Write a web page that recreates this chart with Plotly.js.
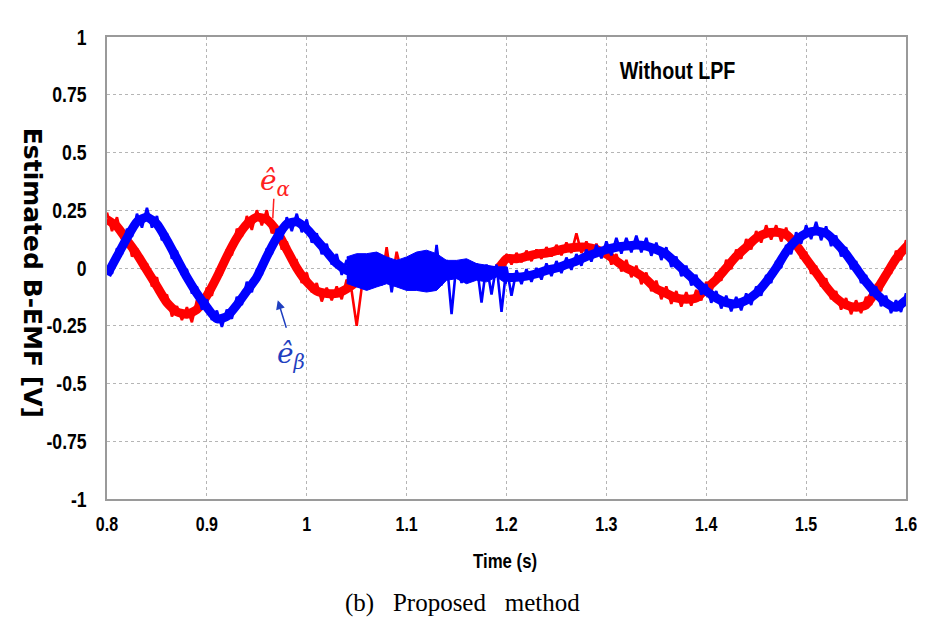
<!DOCTYPE html>
<html>
<head>
<meta charset="utf-8">
<script src="https://cdn.plot.ly/plotly-3.0.1.min.js"></script>
<style>html,body{margin:0;padding:0;background:#fff;}#chart{width:931px;height:626px;}</style>
</head>
<body>
<div id="chart"></div>
<script>
// Time axis sampling (s)
const tStart = 0.8, tStepFine = 0.005, tStepCoarse = 0.01;

// Estimated alpha back-EMF (V), read every 0.005 s from 0.800 s (includes visible ripple)
const eAlpha = [
 0.24,0.16,0.22,0.125,0.155,0.05,0.085,-0.005,0.02,-0.08,
 -0.04,-0.14,-0.115,-0.21,-0.165,-0.225,-0.17,-0.235,-0.14,-0.175,
 -0.085,-0.12,-0.015,-0.025,0.08,0.055,0.17,0.135,0.225,0.165,
 0.25,0.185,0.25,0.15,0.185,0.08,0.115,0.01,0.03,-0.065,
 -0.02,-0.105,-0.065,-0.145,-0.085,-0.14,-0.08,-0.135,-0.05,-0.10,
 -0.25,-0.085,-0.005,-0.08,0.06,-0.06,0.09,-0.06,0.07,-0.02,
 0.035,-0.025,0.03,-0.025,0.03,-0.02,0.025,-0.02,0.02,-0.015,
 0.03,-0.01,0.015,-0.02,0.005,-0.025,0.005,-0.025,0.01,-0.02,
 0.06,0.015,0.065,0.025,0.075,0.03,0.08,0.04,0.09,0.05,
 0.10,0.055,0.11,0.065,0.15,0.065,0.115,0.06,0.105,0.045,
 0.085,0.015,0.06,-0.015,0.035,-0.04,0.01,-0.07,-0.02,-0.10,
 -0.055,-0.135,-0.08,-0.155,-0.10,-0.1675,-0.105,-0.1625,-0.095,-0.14,
 -0.06,-0.105,-0.02,-0.055,0.035,-0.005,0.08,0.04,0.125,0.08,
 0.16,0.11,0.185,0.1225,0.185,0.115,0.175,0.095,0.135,0.04,
 0.07,-0.025,0.01,-0.08,-0.045,-0.135,-0.10,-0.18,-0.13,-0.20,
 -0.14,-0.195,-0.125,-0.16,-0.07,-0.10,0.0,-0.025,0.075,0.035,
 0.12,0.08
];

// Estimated beta back-EMF (V), read every 0.005 s from 0.800 s
const eBeta = [
 0.0,-0.025,0.085,0.06,0.17,0.135,0.235,0.175,0.26,0.175,
 0.225,0.12,0.15,0.04,0.075,-0.03,-0.005,-0.11,-0.08,-0.18,
 -0.135,-0.225,-0.185,-0.255,-0.18,-0.22,-0.125,-0.16,-0.06,-0.105,
 -0.01,-0.03,0.085,0.06,0.17,0.125,0.22,0.16,0.235,0.155,
 0.21,0.11,0.15,0.06,0.105,0.015,0.06,-0.03,0.035,-0.065,
 0.03,-0.075,0.035,-0.085,0.04,-0.075,0.045,-0.105,0.035,-0.075,
 0.04,-0.085,0.045,-0.08,0.045,-0.085,0.10,-0.075,0.035,-0.20,
 0.025,-0.065,0.03,-0.05,0.02,-0.15,0.015,-0.115,0.015,-0.19,
 0.005,-0.12,-0.01,-0.07,-0.005,-0.06,0.0,-0.05,0.02,-0.035,
 0.03,-0.022,0.045,-0.008,0.06,0.01,0.08,0.028,0.10,0.042,
 0.115,0.055,0.13,0.062,0.13,0.068,0.14,0.068,0.13,0.053,
 0.11,0.035,0.09,0.005,0.05,-0.035,0.01,-0.075,-0.03,-0.115,
 -0.07,-0.15,-0.10,-0.175,-0.12,-0.188,-0.125,-0.183,-0.11,-0.16,
 -0.08,-0.12,-0.03,-0.065,0.03,0.0,0.10,0.06,0.155,0.105,
 0.185,0.125,0.20,0.12,0.18,0.095,0.14,0.05,0.09,-0.005,
 0.03,-0.065,-0.03,-0.12,-0.08,-0.165,-0.12,-0.195,-0.14,-0.19,
 -0.11,-0.16
];

// Mid-band (centre of the noisy trace) read every 0.01 s from 0.80 s
const eAlphaMid = [0.21,0.18,0.12,0.06,-0.01,-0.08,-0.15,-0.19,-0.20,-0.18,
 -0.12,-0.04,0.05,0.13,0.19,0.22,0.21,0.16,0.08,0.00,
 -0.06,-0.10,-0.11,-0.11,-0.09,-0.06,-0.03,-0.01,0.00,0.01,
 0.01,0.00,0.00,0.00,0.00,0.01,0.00,-0.01,-0.01,-0.01,
 0.04,0.04,0.05,0.06,0.065,0.075,0.085,0.09,0.09,0.08,
 0.06,0.03,0.00,-0.02,-0.05,-0.09,-0.11,-0.13,-0.135,-0.13,
 -0.09,-0.05,0.00,0.05,0.09,0.13,0.15,0.155,0.145,0.10,
 0.04,-0.02,-0.08,-0.13,-0.16,-0.17,-0.16,-0.10,-0.03,0.04,
 0.09,0.13];
const eBetaMid = [-0.03,0.05,0.13,0.20,0.22,0.19,0.12,0.04,-0.04,-0.11,
 -0.17,-0.22,-0.21,-0.16,-0.10,-0.04,0.05,0.13,0.19,0.20,
 0.17,0.12,0.07,0.02,-0.01,-0.02,-0.015,-0.015,-0.015,-0.015,
 -0.015,-0.015,-0.015,-0.015,-0.015,-0.015,-0.015,-0.015,-0.015,-0.015,
 -0.04,-0.04,-0.035,-0.025,-0.01,0.0,0.015,0.03,0.05,0.065,
 0.08,0.09,0.095,0.10,0.095,0.08,0.06,0.02,-0.02,-0.06,
 -0.10,-0.13,-0.15,-0.155,-0.14,-0.11,-0.06,0.0,0.07,0.12,
 0.15,0.16,0.15,0.11,0.06,0.0,-0.06,-0.11,-0.15,-0.17,
 -0.14,-0.12];

// Wide ripple band of the beta estimate in the low-speed section (1.04–1.20 s, every 0.01 s)
const betaNoiseTime = [1.04,1.05,1.06,1.07,1.08,1.09,1.10,1.11,1.12,1.13,1.14,1.15,1.16,1.17,1.18,1.19,1.20];
const betaNoiseHi = [0.048,0.062,0.062,0.069,0.048,0.033,0.048,0.069,0.077,0.062,0.033,0.033,0.040,0.019,0.012,0.005,0.005];
const betaNoiseLo = [-0.067,-0.082,-0.097,-0.082,-0.068,-0.082,-0.097,-0.097,-0.104,-0.097,-0.053,-0.046,-0.068,-0.053,-0.060,-0.039,-0.068];

// Axis ticks
const xTickVals = [0.8,0.9,1.0,1.1,1.2,1.3,1.4,1.5,1.6];
const xTickText = ['0.8','0.9','1','1.1','1.2','1.3','1.4','1.5','1.6'];
const yTickVals = [-1,-0.75,-0.5,-0.25,0,0.25,0.5,0.75,1];
const yTickText = ['-1','-0.75','-0.5','-0.25','0','0.25','0.5','0.75','1'];

const tFine = eAlpha.map((_, k) => +(tStart + tStepFine * k).toFixed(3));
const tCoarse = eAlphaMid.map((_, k) => +(tStart + tStepCoarse * k).toFixed(2));

const RED = '#ff0000', BLUE = '#0000ff';
const sansB = '"Liberation Sans", Arial, sans-serif';

const traces = [
  {x: tCoarse, y: eAlphaMid, mode: 'lines', line: {color: RED, width: 9, shape: 'spline', smoothing: 0.6}, hoverinfo: 'skip', showlegend: false},
  {x: tFine, y: eAlpha, mode: 'lines', line: {color: RED, width: 2.6}, showlegend: false},
  {x: betaNoiseTime.concat(betaNoiseTime.slice().reverse()), y: betaNoiseHi.concat(betaNoiseLo.slice().reverse()),
   mode: 'lines', fill: 'toself', fillcolor: BLUE, line: {color: BLUE, width: 1}, hoverinfo: 'skip', showlegend: false},
  {x: tCoarse, y: eBetaMid, mode: 'lines', line: {color: BLUE, width: 9, shape: 'spline', smoothing: 0.6}, hoverinfo: 'skip', showlegend: false},
  {x: tFine, y: eBeta, mode: 'lines', line: {color: BLUE, width: 2.6}, showlegend: false}
];

const layout = {
  width: 931, height: 626,
  margin: {l: 107, r: 25, t: 36.5, b: 127},
  paper_bgcolor: '#ffffff', plot_bgcolor: '#ffffff',
  showlegend: false,
  xaxis: {
    range: [0.8, 1.6], tickmode: 'array', tickvals: xTickVals, ticktext: xTickText,
    showgrid: true, gridcolor: '#b5b5b5', griddash: 'dot', gridwidth: 1,
    zeroline: false, showline: true, linecolor: '#9a9a9a', linewidth: 2, mirror: true,
    ticks: 'outside', ticklen: 6, tickcolor: 'rgba(0,0,0,0)',
    tickfont: {family: sansB, size: 20, color: '#000', weight: 'bold'}
  },
  yaxis: {
    range: [-1, 1], tickmode: 'array', tickvals: yTickVals, ticktext: yTickText,
    showgrid: true, gridcolor: '#b5b5b5', griddash: 'dot', gridwidth: 1,
    zeroline: false, showline: true, linecolor: '#9a9a9a', linewidth: 2, mirror: true,
    ticks: 'outside', ticklen: 14, tickcolor: 'rgba(0,0,0,0)',
    tickfont: {family: sansB, size: 22, color: '#000', weight: 'bold'}
  },
  shapes: [
    {type: 'line', xref: 'x', yref: 'y', x0: 0.967, y0: 0.30, x1: 0.966, y1: 0.215, line: {color: '#ff2020', width: 1.5}}
  ],
  annotations: [
    {xref: 'paper', yref: 'paper', x: 0.714, y: 0.927, text: 'Without LPF', showarrow: false,
     font: {family: sansB, size: 24, color: '#000', weight: 'bold'}, xanchor: 'center', yanchor: 'middle'},
    {xref: 'paper', yref: 'paper', x: -0.094, y: 0.49, text: 'Estimated B-EMF [V]', showarrow: false, textangle: 90,
     font: {family: '"DejaVu Sans", sans-serif', size: 25, color: '#000', weight: 'bold'}, xanchor: 'center', yanchor: 'middle'},
    {xref: 'paper', yref: 'paper', x: 0.498, y: -0.134, text: 'Time (s)', showarrow: false,
     font: {family: sansB, size: 21, color: '#000', weight: 'bold'}, xanchor: 'center', yanchor: 'middle'},
    {xref: 'paper', yref: 'paper', x: 0.445, y: -0.2246, text: '(b)\u2002 Proposed\u2002 method', showarrow: false,
     font: {family: '"Liberation Serif", "Times New Roman", serif', size: 25, color: '#000'}, xanchor: 'center', yanchor: 'middle'},
    {xref: 'x', yref: 'y', x: 0.968, y: 0.37, text: '<i>ê</i><sub><i>α</i></sub>', showarrow: false,
     font: {family: '"DejaVu Serif", serif', size: 28, color: '#ff2020'}, xanchor: 'center', yanchor: 'middle'},
    {xref: 'x', yref: 'y', x: 0.984, y: -0.38, text: '<i>ê</i><sub><i>β</i></sub>', showarrow: false,
     font: {family: '"DejaVu Serif", serif', size: 28, color: '#1f3fc0'}, xanchor: 'center', yanchor: 'middle'},
    {xref: 'x', yref: 'y', axref: 'x', ayref: 'y', x: 0.971, y: -0.14, ax: 0.980, ay: -0.265, text: '',
     showarrow: true, arrowhead: 2, arrowsize: 1.2, arrowwidth: 1.5, arrowcolor: '#1f3fc0'}
  ]
};

// Condense the sans labels to mimic the narrow bold face of the original
function condense(el, factor) {
  try {
    const w = el.getComputedTextLength();
    if (w > 0) {
      el.setAttribute('textLength', (w * factor).toFixed(1));
      el.setAttribute('lengthAdjust', 'spacingAndGlyphs');
    }
  } catch (e) {}
}

Plotly.newPlot('chart', traces, layout, {displayModeBar: false, staticPlot: true}).then(gd => {
  gd.querySelectorAll('.xtick text, .ytick text').forEach(el => condense(el, 0.8));
  gd.querySelectorAll('text.annotation-text').forEach(el => {
    const s = el.textContent;
    if (s === 'Without LPF') condense(el, 0.82);
    if (s === 'Time (s)') condense(el, 0.8);
  });
});
</script>
</body>
</html>
